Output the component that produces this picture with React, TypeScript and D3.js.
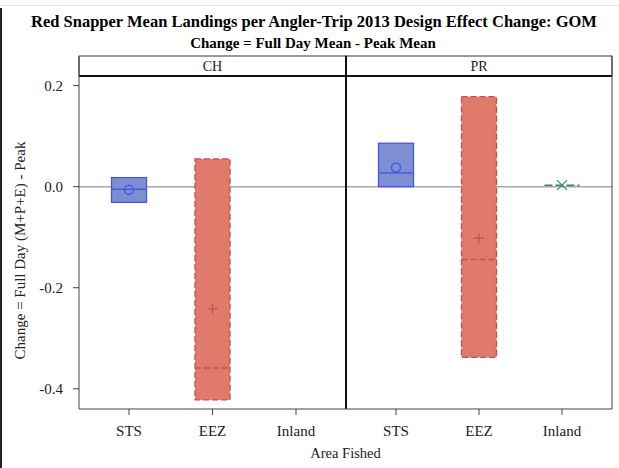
import React from "react";
import * as d3 from "d3";

const panels = ["CH", "PR"];
const categories = ["STS", "EEZ", "Inland"];
const yTicks = [0.2, 0.0, -0.2, -0.4];

// box stats per panel, per category (null = no data)
const chQ1 = [-0.031, -0.422, null];
const chMedian = [-0.005, -0.359, null];
const chQ3 = [0.018, 0.055, null];
const chMean = [-0.006, -0.242, null];

const prQ1 = [0.0, -0.338, 0.003];
const prMedian = [0.027, -0.144, 0.003];
const prQ3 = [0.086, 0.178, 0.003];
const prMean = [0.038, -0.102, 0.003];

const title = "Red Snapper Mean Landings per Angler-Trip 2013 Design Effect Change: GOM";
const subtitle = "Change = Full Day Mean - Peak Mean";
const yLabel = "Change = Full Day (M+P+E) - Peak";
const xLabel = "Area Fished";

const styles: Record<string, { fill: string; stroke: string; dash: string | null; marker: string }> = {
  STS: { fill: "#7d8fd2", stroke: "#4658e6", dash: null, marker: "circle" },
  EEZ: { fill: "#e07b6c", stroke: "#cc4a55", dash: "6,3", marker: "plus" },
  Inland: { fill: "none", stroke: "#2f8a78", dash: "8,3", marker: "x" },
};

const W = 619;
const H = 468;
const left = 79;
const right = 612;
const mid = 346;
const stripTop = 56;
const plotTop = 76;
const plotBottom = 409;
const font = "'Liberation Serif', 'Times New Roman', serif";

const fmt = (v: number) => d3.format(".1f")(v).replace("\u2212", "-");

export default function App() {
  const y = d3.scaleLinear().domain([-0.44, 0.219]).range([plotBottom, plotTop]);
  const panelRanges: [number, number][] = [
    [left, mid],
    [mid, right],
  ];
  const data = [
    { q1: chQ1, med: chMedian, q3: chQ3, mean: chMean },
    { q1: prQ1, med: prMedian, q3: prQ3, mean: prMean },
  ];
  const boxW = 35;

  return (
    <svg
      width={W}
      height={H}
      style={{ position: "absolute", left: 0, top: 0, background: "#fff", fontFamily: font }}
    >
      <rect x={0} y={0} width={W} height={H} fill="#fff" />
      <line x1={0} x2={W} y1={5.5} y2={5.5} stroke="#e4e4e4" />
      <line x1={1} x2={1} y1={8} y2={H} stroke="#222" strokeWidth={2} />

      <text x={314} y={27} textAnchor="middle" fontSize={16.5} fontWeight="bold" fill="#000" fontFamily={font}>
        {title}
      </text>
      <text x={313} y={48} textAnchor="middle" fontSize={15} fontWeight="bold" fill="#000" fontFamily={font}>
        {subtitle}
      </text>

      {/* y axis label */}
      <text
        transform={`translate(25,${(stripTop + plotBottom) / 2 + 18}) rotate(-90)`}
        textAnchor="middle"
        fontSize={15}
        fill="#222"
        fontFamily={font}
      >
        {yLabel}
      </text>

      {/* y ticks */}
      {yTicks.map((t) => (
        <g key={t}>
          <line x1={left - 6} x2={left} y1={y(t)} y2={y(t)} stroke="#444" />
          <text x={left - 16} y={y(t) + 5} textAnchor="end" fontSize={15} fill="#222" fontFamily={font}>
            {fmt(t)}
          </text>
        </g>
      ))}

      {/* zero reference line */}
      <line x1={left} x2={right} y1={y(0)} y2={y(0)} stroke="#a8a8a8" strokeWidth={1.5} />

      {panels.map((p, pi) => {
        const [x0, x1] = panelRanges[pi];
        const x = d3.scalePoint<string>().domain(categories).range([x0 + 50, x1 - 50]);
        const d = data[pi];
        return (
          <g key={p}>
            {/* strip */}
            <rect x={x0} y={stripTop} width={x1 - x0} height={plotTop - stripTop} fill="#fff" stroke="#333" />
            <text x={(x0 + x1) / 2} y={stripTop + 15} textAnchor="middle" fontSize={14} fill="#222" fontFamily={font}>
              {p}
            </text>
            {categories.map((c, ci) => {
              const q1 = d.q1[ci];
              const q3 = d.q3[ci];
              const med = d.med[ci];
              const mean = d.mean[ci];
              const cx = x(c) as number;
              const st = styles[c];
              return (
                <g key={c}>
                  <line x1={cx} x2={cx} y1={plotBottom} y2={plotBottom + 6} stroke="#444" />
                  <text x={cx} y={plotBottom + 27} textAnchor="middle" fontSize={15} fill="#222" fontFamily={font}>
                    {c}
                  </text>
                  {q1 !== null && q3 !== null && med !== null && mean !== null && (
                    <g>
                      {q3 - q1 > 0.001 ? (
                        <rect
                          x={cx - boxW / 2}
                          y={y(q3)}
                          width={boxW}
                          height={y(q1) - y(q3)}
                          fill={st.fill}
                          stroke={st.stroke}
                          strokeWidth={1.3}
                          strokeDasharray={st.dash ?? undefined}
                        />
                      ) : null}
                      <line
                        x1={cx - boxW / 2}
                        x2={cx + boxW / 2}
                        y1={y(med)}
                        y2={y(med)}
                        stroke={st.stroke}
                        strokeWidth={1.5}
                        strokeDasharray={st.dash ?? undefined}
                      />
                      {st.marker === "circle" && (
                        <circle cx={cx} cy={y(mean)} r={4.5} fill="none" stroke={st.stroke} strokeWidth={1.5} />
                      )}
                      {st.marker === "plus" && (
                        <path
                          d={`M${cx - 5},${y(mean)}H${cx + 5}M${cx},${y(mean) - 5}V${y(mean) + 5}`}
                          stroke={st.stroke}
                          strokeWidth={1.2}
                        />
                      )}
                      {st.marker === "x" && (
                        <path
                          d={`M${cx - 5},${y(mean) - 5}L${cx + 5},${y(mean) + 5}M${cx - 5},${y(mean) + 5}L${cx + 5},${y(mean) - 5}`}
                          stroke={st.stroke}
                          strokeWidth={1.2}
                        />
                      )}
                    </g>
                  )}
                </g>
              );
            })}
          </g>
        );
      })}

      {/* panel frame */}
      <line x1={left} x2={right} y1={plotTop} y2={plotTop} stroke="#111" strokeWidth={2} />
      <line x1={left} x2={left} y1={stripTop} y2={plotBottom} stroke="#444" />
      <line x1={right} x2={right} y1={stripTop} y2={plotBottom} stroke="#444" />
      <line x1={mid} x2={mid} y1={stripTop} y2={plotBottom} stroke="#111" strokeWidth={2} />
      <line x1={left} x2={right} y1={plotBottom} y2={plotBottom} stroke="#444" />

      <text x={(left + right) / 2} y={plotBottom + 49} textAnchor="middle" fontSize={14.5} fill="#222" fontFamily={font}>
        {xLabel}
      </text>
    </svg>
  );
}
